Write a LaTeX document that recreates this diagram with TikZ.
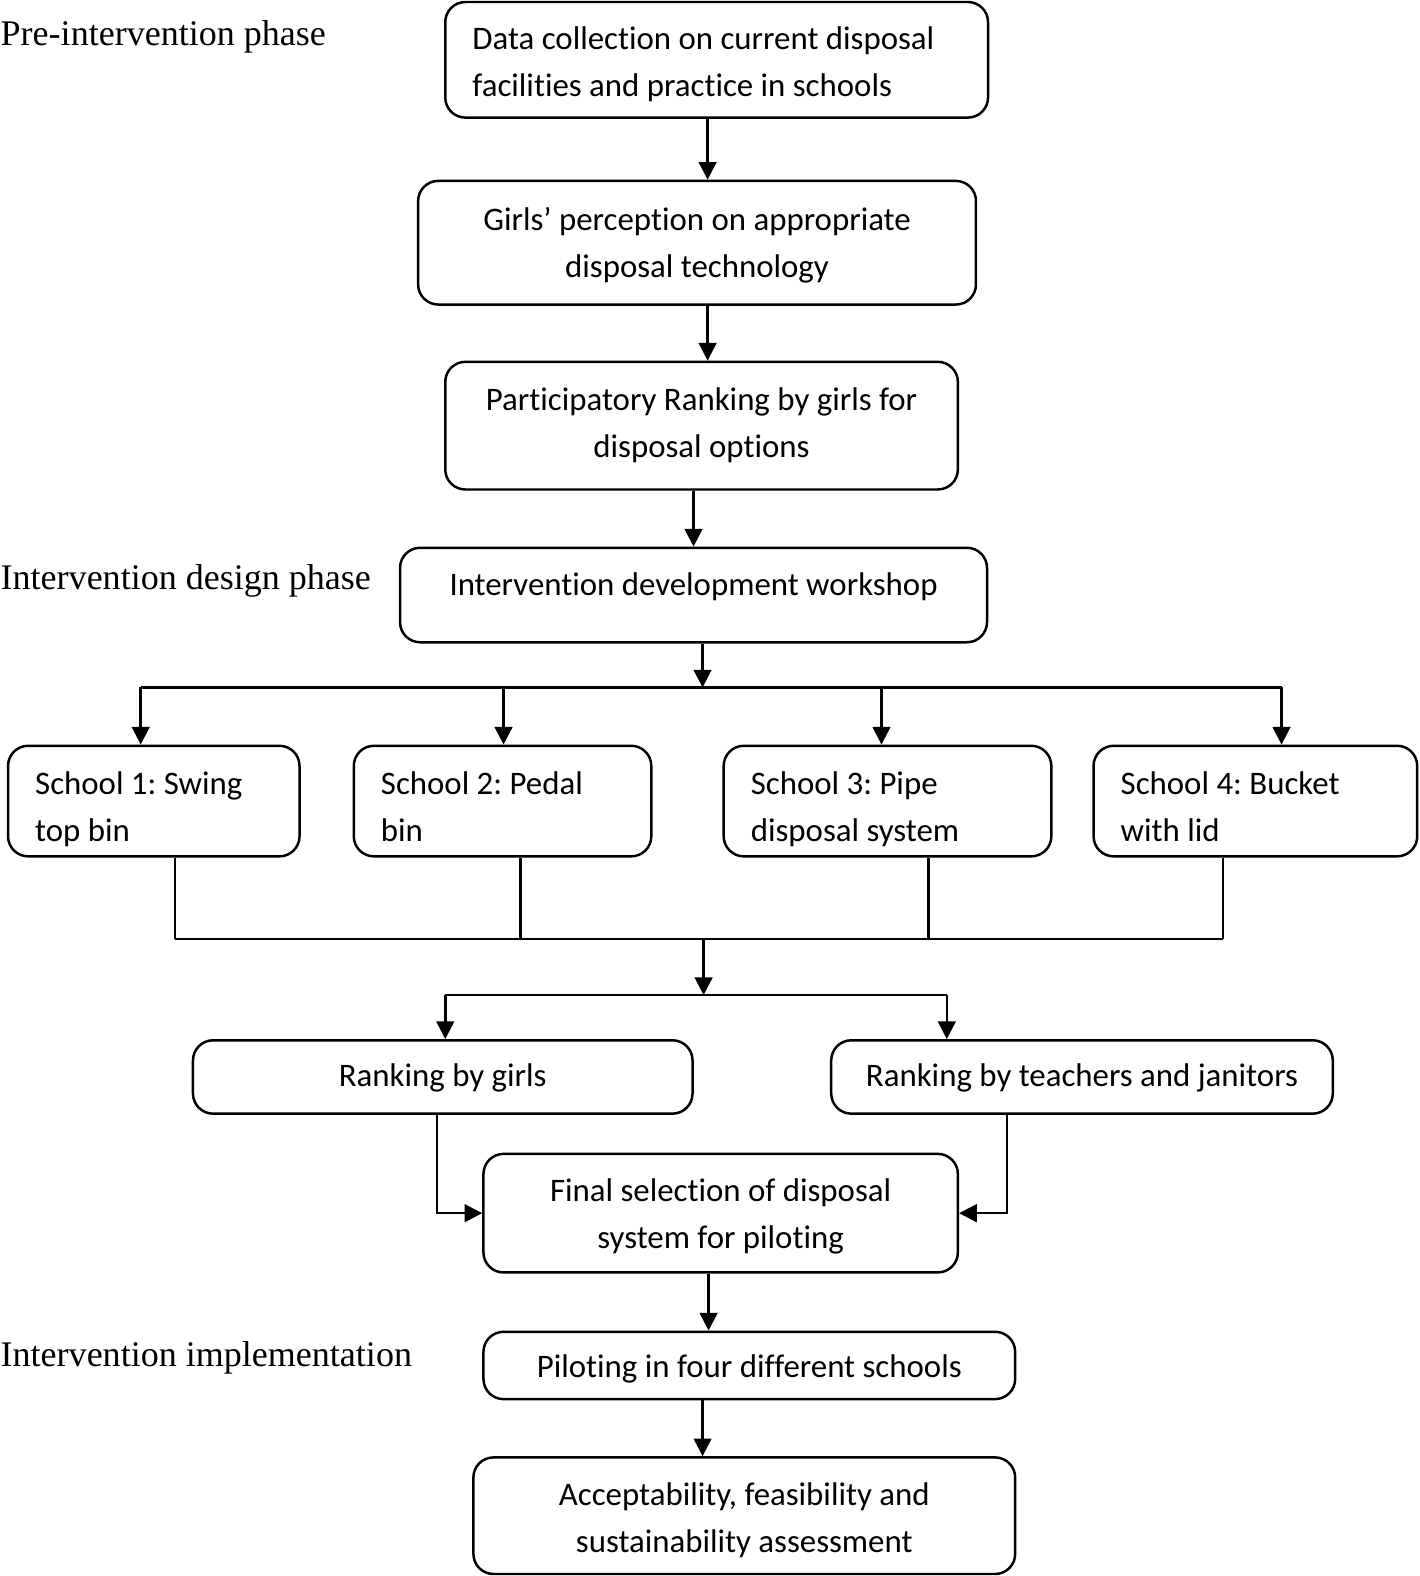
\documentclass[tikz,border=0pt]{standalone}
\usepackage{fontspec}
\setmainfont{Carlito}[Ligatures=NoCommon]
\newfontfamily\phasefont{Liberation Serif}
\usetikzlibrary{arrows.meta}
\frenchspacing

\begin{document}
\begin{tikzpicture}[
  box/.style={draw, rounded corners=0.2cm, line width=0.7pt, align=flush center,
    font={\fontsize{9.3}{13.4}\selectfont}, inner sep=0pt},
  lbox/.style={box, align=flush left, inner xsep=0.27cm},
  phase/.style={anchor=west, inner sep=0pt, font={\phasefont\fontsize{10.2}{12}\selectfont}},
  link/.style={line width=0.7pt},
  arr/.style={link, arrows=-{Triangle[length=5pt,width=5pt]}}
]
\useasboundingbox (0,0) rectangle (14.12,-15.68);

% phases
\node[phase] (pre) at (0,-0.37) {Pre-intervention phase};
\node[phase] (design) at (0,-5.78) {Intervention design phase};
\node[phase] (impl) at (0,-13.51) {Intervention implementation};

% top column
\node[lbox, text width=4.86cm, minimum height=1.15cm, text height=0.31cm, text depth=0.52cm] (data) at (7.13,-0.595)
  {Data collection on current disposal\\facilities and practice in schools};
\node[box, text width=5.55cm, minimum height=1.23cm, text height=0.27cm, text depth=0.52cm] (perception) at (6.935,-2.415)
  {Girls’ perception on appropriate\\disposal technology};
\node[box, text width=5.10cm, minimum height=1.27cm, text height=0.25cm, text depth=0.56cm] (participatory) at (6.98,-4.235)
  {Participatory Ranking by girls for\\disposal options};
\node[box, minimum width=5.84cm, minimum height=0.94cm, text height=0.22cm, text depth=0.22cm] (workshop) at (6.90,-5.92)
  {Intervention development workshop};

\draw[arr] (data.south -| 7.04,0) -- (perception.north -| 7.04,0);
\draw[arr] (perception.south -| 7.04,0) -- (participatory.north -| 7.04,0);
\draw[arr] (participatory.south -| 6.90,0) -- (workshop.north -| 6.90,0);

% schools
\tikzset{school/.style={lbox, minimum height=1.10cm, text height=0.31cm, text depth=0.45cm}}
\node[school, text width=2.36cm] (school1) at (1.53,-7.97) {School 1: Swing\\top bin};
\node[school, text width=2.42cm] (school2) at (5.00,-7.97) {School 2: Pedal\\bin};
\node[school, text width=2.72cm] (school3) at (8.83,-7.97) {School 3: Pipe\\disposal system};
\node[school, text width=2.68cm] (school4) at (12.49,-7.97) {School 4: Bucket\\with lid};

\coordinate (fan) at (6.99,-6.84);
\coordinate (fan1) at (1.40,-6.84);
\coordinate (fan2) at (5.01,-6.84);
\coordinate (fan3) at (8.77,-6.84);
\coordinate (fan4) at (12.75,-6.84);
\draw[arr] (workshop.south -| fan) -- (fan);
\draw[link] (fan1) -- (fan4);
\foreach \i in {1,2,3,4}
  \draw[arr] (fan\i) -- (fan\i |- school\i.north);

% merge
\coordinate (join1) at (1.74,-9.34);
\coordinate (join2) at (5.18,-9.34);
\coordinate (join3) at (9.24,-9.34);
\coordinate (join4) at (12.17,-9.34);
\foreach \i in {1,2,3,4}
  \draw[link] (join\i |- school\i.south) -- (join\i);
\draw[link] (join1) -- (join4);

\node[box, minimum width=4.97cm, minimum height=0.73cm, text height=0.25cm, text depth=0.06cm] (rgirls) at (4.405,-10.715)
  {Ranking by girls};
\node[box, minimum width=4.99cm, minimum height=0.73cm, text height=0.25cm, text depth=0.06cm] (rteachers) at (10.765,-10.715)
  {Ranking by teachers and janitors};

\coordinate (join) at (7.00,-9.34);
\coordinate (split) at (7.00,-9.90);
\coordinate (split1) at (4.43,-9.90);
\coordinate (split2) at (9.42,-9.90);
\draw[arr] (join) -- (split);
\draw[link] (split1) -- (split2);
\draw[arr] (split1) -- (split1 |- rgirls.north);
\draw[arr] (split2) -- (split2 |- rteachers.north);

\node[box, text width=4.72cm, minimum height=1.18cm, text height=0.28cm, text depth=0.52cm] (final) at (7.17,-12.07)
  {Final selection of disposal\\system for piloting};
\draw[arr] (rgirls.south -| 4.35,0) |- (final.west);
\draw[arr] (rteachers.south -| 10.02,0) |- (final.east);

% implementation
\node[box, minimum width=5.29cm, minimum height=0.67cm, text height=0.27cm, text depth=0.04cm] (piloting) at (7.455,-13.585)
  {Piloting in four different schools};
\node[box, text width=5.39cm, minimum height=1.16cm, text height=0.32cm, text depth=0.52cm] (assess) at (7.405,-15.08)
  {Acceptability, feasibility and\\sustainability assessment};

\draw[arr] (final.south -| 7.05,0) -- (piloting.north -| 7.05,0);
\draw[arr] (piloting.south -| 6.99,0) -- (assess.north -| 6.99,0);
\end{tikzpicture}
\end{document}
